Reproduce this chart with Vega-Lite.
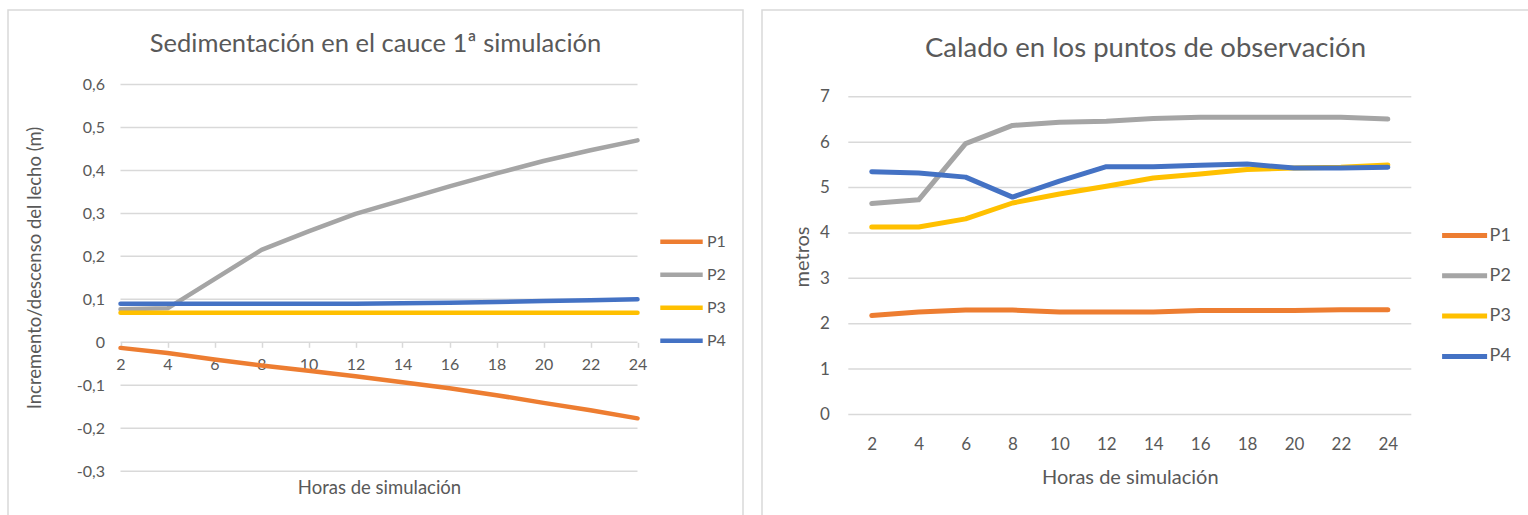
{
  "$schema": "https://vega.github.io/schema/vega-lite/v6.json",
  "background": "white",
  "padding": {"left": 7, "top": 9, "right": 0, "bottom": 0},
  "config": {
    "view": {"stroke": "#d9d9d9", "strokeWidth": 1.5},
    "font": "Lato"
  },
  "datasets": {
    "sed": [
      {"h": 2, "serie": "P1", "v": -0.013}, {"h": 4, "serie": "P1", "v": -0.025}, {"h": 6, "serie": "P1", "v": -0.040}, {"h": 8, "serie": "P1", "v": -0.054},
      {"h": 10, "serie": "P1", "v": -0.066}, {"h": 12, "serie": "P1", "v": -0.079}, {"h": 14, "serie": "P1", "v": -0.093}, {"h": 16, "serie": "P1", "v": -0.107},
      {"h": 18, "serie": "P1", "v": -0.123}, {"h": 20, "serie": "P1", "v": -0.141}, {"h": 22, "serie": "P1", "v": -0.158}, {"h": 24, "serie": "P1", "v": -0.177},
      {"h": 2, "serie": "P2", "v": 0.077}, {"h": 4, "serie": "P2", "v": 0.079}, {"h": 6, "serie": "P2", "v": 0.147}, {"h": 8, "serie": "P2", "v": 0.215},
      {"h": 10, "serie": "P2", "v": 0.258}, {"h": 12, "serie": "P2", "v": 0.299}, {"h": 14, "serie": "P2", "v": 0.331}, {"h": 16, "serie": "P2", "v": 0.363},
      {"h": 18, "serie": "P2", "v": 0.393}, {"h": 20, "serie": "P2", "v": 0.422}, {"h": 22, "serie": "P2", "v": 0.447}, {"h": 24, "serie": "P2", "v": 0.470},
      {"h": 2, "serie": "P3", "v": 0.069}, {"h": 4, "serie": "P3", "v": 0.069}, {"h": 6, "serie": "P3", "v": 0.069}, {"h": 8, "serie": "P3", "v": 0.069},
      {"h": 10, "serie": "P3", "v": 0.069}, {"h": 12, "serie": "P3", "v": 0.069}, {"h": 14, "serie": "P3", "v": 0.069}, {"h": 16, "serie": "P3", "v": 0.069},
      {"h": 18, "serie": "P3", "v": 0.069}, {"h": 20, "serie": "P3", "v": 0.069}, {"h": 22, "serie": "P3", "v": 0.069}, {"h": 24, "serie": "P3", "v": 0.069},
      {"h": 2, "serie": "P4", "v": 0.090}, {"h": 4, "serie": "P4", "v": 0.090}, {"h": 6, "serie": "P4", "v": 0.090}, {"h": 8, "serie": "P4", "v": 0.090},
      {"h": 10, "serie": "P4", "v": 0.090}, {"h": 12, "serie": "P4", "v": 0.090}, {"h": 14, "serie": "P4", "v": 0.091}, {"h": 16, "serie": "P4", "v": 0.092},
      {"h": 18, "serie": "P4", "v": 0.094}, {"h": 20, "serie": "P4", "v": 0.096}, {"h": 22, "serie": "P4", "v": 0.098}, {"h": 24, "serie": "P4", "v": 0.100}
    ],
    "cal": [
      {"h": 2, "serie": "P1", "v": 2.18}, {"h": 4, "serie": "P1", "v": 2.26}, {"h": 6, "serie": "P1", "v": 2.30}, {"h": 8, "serie": "P1", "v": 2.30},
      {"h": 10, "serie": "P1", "v": 2.26}, {"h": 12, "serie": "P1", "v": 2.26}, {"h": 14, "serie": "P1", "v": 2.26}, {"h": 16, "serie": "P1", "v": 2.29},
      {"h": 18, "serie": "P1", "v": 2.29}, {"h": 20, "serie": "P1", "v": 2.29}, {"h": 22, "serie": "P1", "v": 2.31}, {"h": 24, "serie": "P1", "v": 2.31},
      {"h": 2, "serie": "P2", "v": 4.65}, {"h": 4, "serie": "P2", "v": 4.73}, {"h": 6, "serie": "P2", "v": 5.97}, {"h": 8, "serie": "P2", "v": 6.37},
      {"h": 10, "serie": "P2", "v": 6.44}, {"h": 12, "serie": "P2", "v": 6.46}, {"h": 14, "serie": "P2", "v": 6.52}, {"h": 16, "serie": "P2", "v": 6.55},
      {"h": 18, "serie": "P2", "v": 6.55}, {"h": 20, "serie": "P2", "v": 6.55}, {"h": 22, "serie": "P2", "v": 6.55}, {"h": 24, "serie": "P2", "v": 6.51},
      {"h": 2, "serie": "P3", "v": 4.13}, {"h": 4, "serie": "P3", "v": 4.13}, {"h": 6, "serie": "P3", "v": 4.31}, {"h": 8, "serie": "P3", "v": 4.66},
      {"h": 10, "serie": "P3", "v": 4.86}, {"h": 12, "serie": "P3", "v": 5.03}, {"h": 14, "serie": "P3", "v": 5.21}, {"h": 16, "serie": "P3", "v": 5.30},
      {"h": 18, "serie": "P3", "v": 5.40}, {"h": 20, "serie": "P3", "v": 5.43}, {"h": 22, "serie": "P3", "v": 5.45}, {"h": 24, "serie": "P3", "v": 5.50},
      {"h": 2, "serie": "P4", "v": 5.35}, {"h": 4, "serie": "P4", "v": 5.32}, {"h": 6, "serie": "P4", "v": 5.23}, {"h": 8, "serie": "P4", "v": 4.79},
      {"h": 10, "serie": "P4", "v": 5.14}, {"h": 12, "serie": "P4", "v": 5.46}, {"h": 14, "serie": "P4", "v": 5.46}, {"h": 16, "serie": "P4", "v": 5.49},
      {"h": 18, "serie": "P4", "v": 5.52}, {"h": 20, "serie": "P4", "v": 5.43}, {"h": 22, "serie": "P4", "v": 5.43}, {"h": 24, "serie": "P4", "v": 5.45}
    ],
    "gridL": [{"g": -0.3}, {"g": -0.2}, {"g": -0.1}, {"g": 0}, {"g": 0.1}, {"g": 0.2}, {"g": 0.3}, {"g": 0.4}, {"g": 0.5}, {"g": 0.6}],
    "gridR": [{"g": 0}, {"g": 1}, {"g": 2}, {"g": 3}, {"g": 4}, {"g": 5}, {"g": 6}, {"g": 7}]
  },
  "hconcat": [
    {
      "width": 735,
      "height": 507,
      "title": {"text": "Sedimentación en el cauce 1ª simulación", "anchor": "middle", "frame": "group", "offset": 0, "baseline": "middle", "dy": 59, "fontSize": 25.5, "font": "Lato", "fontWeight": "normal", "color": "#595959"},
      "layer": [
        {
          "data": {"name": "gridL"},
          "mark": {"type": "rule", "color": "#d9d9d9", "strokeWidth": 1.5},
          "encoding": {
            "y": {"field": "g", "type": "quantitative", "scale": {"domain": [-0.3, 0.6], "range": [461.2, 74.5], "nice": false, "zero": false}},
            "x": {"datum": 2, "type": "quantitative", "scale": {"domain": [2, 24], "range": [112.5, 629.5], "nice": false, "zero": false}},
            "x2": {"datum": 24}
          }
        },
        {
          "data": {"name": "sed"},
          "mark": {"type": "line", "strokeWidth": 4.5, "strokeCap": "round", "strokeJoin": "round"},
          "encoding": {
            "x": {"field": "h", "type": "quantitative",
              "scale": {"domain": [2, 24], "range": [112.5, 629.5], "nice": false, "zero": false},
              "axis": {"orient": "bottom", "offset": -174.7, "values": [2, 4, 6, 8, 10, 12, 14, 16, 18, 20, 22, 24], "domain": false, "ticks": true, "tickSize": 5, "tickColor": "#d9d9d9", "tickWidth": 1.5, "labelPadding": 17, "labelBaseline": "middle", "labelFontSize": 16, "labelColor": "#595959", "labelFont": "Lato", "labelFlush": false, "labelOverlap": false, "grid": false,
                "title": "Horas de simulación", "titleX": 371, "titleY": 145, "titleBaseline": "middle", "titleAlign": "center", "titleFontSize": 18.5, "titleFontWeight": "normal", "titleColor": "#595959", "titleFont": "Lato"}},
            "y": {"field": "v", "type": "quantitative",
              "scale": {"domain": [-0.3, 0.6], "range": [461.2, 74.5], "nice": false, "zero": false},
              "axis": {"orient": "left", "offset": -112.5, "values": [-0.3, -0.2, -0.1, 0, 0.1, 0.2, 0.3, 0.4, 0.5, 0.6], "domain": false, "ticks": false, "labelPadding": 16, "labelFontSize": 16, "labelColor": "#595959", "labelFont": "Lato", "grid": false,
                "labelExpr": "datum.value == 0 ? '0' : replace(replace(format(datum.value, '.1f'), '.', ','), '\u2212', '-')",
                "title": "Incremento/descenso del lecho (m)", "titleX": -86, "titleY": 257.5, "titleBaseline": "middle", "titleAlign": "center", "titleAngle": -90, "titleFontSize": 18.5, "titleFontWeight": "normal", "titleColor": "#595959", "titleFont": "Lato"}},
            "color": {"field": "serie", "type": "nominal",
              "scale": {"domain": ["P1", "P2", "P3", "P4"], "range": ["#ED7D31", "#A5A5A5", "#FFC000", "#4472C4"]},
              "legend": {"orient": "none", "legendX": 650, "legendY": 221.7, "title": null, "symbolType": "stroke", "symbolSize": 1800, "symbolStrokeWidth": 4.5, "clipHeight": 20, "rowPadding": 13, "labelOffset": 2, "labelFontSize": 16, "labelFont": "Lato", "labelColor": "#595959", "padding": 0}}
          }
        }
      ]
    },
    {
      "width": 767,
      "height": 509,
      "title": {"text": "Calado en los puntos de observación", "anchor": "middle", "frame": "group", "offset": 0, "baseline": "middle", "dy": 66, "fontSize": 27.5, "font": "Lato", "fontWeight": "normal", "color": "#595959"},
      "layer": [
        {
          "data": {"name": "gridR"},
          "mark": {"type": "rule", "color": "#d9d9d9", "strokeWidth": 1.5},
          "encoding": {
            "y": {"field": "g", "type": "quantitative", "scale": {"domain": [0, 7], "range": [404.5, 86.8], "nice": false, "zero": false}},
            "x": {"datum": 1, "type": "quantitative", "scale": {"domain": [1, 25], "range": [86.3, 649.3], "nice": false, "zero": false}},
            "x2": {"datum": 25}
          }
        },
        {
          "data": {"name": "cal"},
          "mark": {"type": "line", "strokeWidth": 5, "strokeCap": "round", "strokeJoin": "round"},
          "encoding": {
            "x": {"field": "h", "type": "quantitative",
              "scale": {"domain": [1, 25], "range": [86.3, 649.3], "nice": false, "zero": false},
              "axis": {"orient": "bottom", "offset": -104.5, "values": [2, 4, 6, 8, 10, 12, 14, 16, 18, 20, 22, 24], "domain": false, "ticks": false, "labelPadding": 30, "labelBaseline": "middle", "labelFontSize": 17, "labelColor": "#595959", "labelFont": "Lato", "labelFlush": false, "labelOverlap": false, "grid": false,
                "title": "Horas de simulación", "titleX": 367.8, "titleY": 63, "titleBaseline": "middle", "titleAlign": "center", "titleFontSize": 20, "titleFontWeight": "normal", "titleColor": "#595959", "titleFont": "Lato"}},
            "y": {"field": "v", "type": "quantitative",
              "scale": {"domain": [0, 7], "range": [404.5, 86.8], "nice": false, "zero": false},
              "axis": {"orient": "left", "offset": -86.3, "values": [0, 1, 2, 3, 4, 5, 6, 7], "format": "d", "domain": false, "ticks": false, "labelPadding": 19, "labelFontSize": 17, "labelColor": "#595959", "labelFont": "Lato", "grid": false,
                "title": "metros", "titleX": -46, "titleY": 246.5, "titleBaseline": "middle", "titleAlign": "center", "titleAngle": -90, "titleFontSize": 20, "titleFontWeight": "normal", "titleColor": "#595959", "titleFont": "Lato"}},
            "color": {"field": "serie", "type": "nominal",
              "scale": {"domain": ["P1", "P2", "P3", "P4"], "range": ["#ED7D31", "#A5A5A5", "#FFC000", "#4472C4"]},
              "legend": {"orient": "none", "legendX": 677.6, "legendY": 215.5, "title": null, "symbolType": "stroke", "symbolSize": 2025, "symbolStrokeWidth": 5, "clipHeight": 20, "rowPadding": 20.3, "labelOffset": 0, "labelFontSize": 18, "labelFont": "Lato", "labelColor": "#595959", "padding": 0}}
          }
        }
      ]
    }
  ],
  "spacing": 17,
  "resolve": {"scale": {"color": "independent", "x": "independent", "y": "independent"}, "legend": {"color": "independent"}}
}
